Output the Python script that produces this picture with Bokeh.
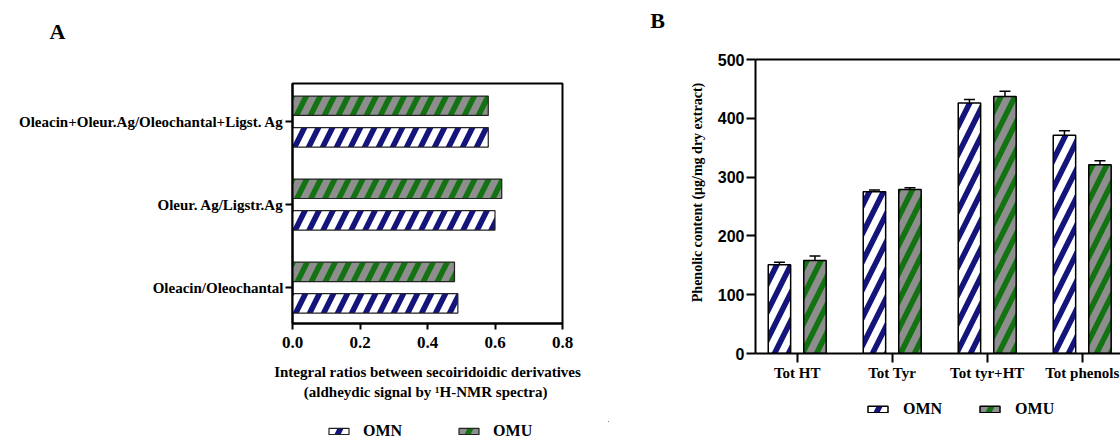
from bokeh.plotting import figure
from bokeh.models import (FixedTicker, NumeralTickFormatter, Legend, LegendItem, Whisker,
                          TeeHead, ColumnDataSource, LinearAxis, Range1d, Label)
from bokeh.layouts import row, column
from bokeh.embed import file_html
from bokeh.resources import INLINE

# ---------------- data ----------------
series = ["OMN", "OMU"]

a_categories = ["Oleacin/Oleochantal", "Oleur. Ag/Ligstr.Ag",
                "Oleacin+Oleur.Ag/Oleochantal+Ligst. Ag"]
a_omn = [0.49, 0.60, 0.58]
a_omu = [0.48, 0.62, 0.58]
a_ticks = [0.0, 0.2, 0.4, 0.6, 0.8]

b_categories = ["Tot HT", "Tot Tyr", "Tot tyr+HT", "Tot phenols"]
b_omn = [151, 275, 426, 371]
b_omn_err = [4, 3, 6, 8]
b_omu = [158, 279, 437, 321]
b_omu_err = [8, 3, 9, 7]
b_ticks = [0, 100, 200, 300, 400, 500]

# ---------------- styles ----------------
NAVY = "#14147c"
GREEN = "#137313"
STRIPE_N = "white"
STRIPE_U = "#8e8e8e"
SERIF = "Liberation Serif"
SANS = "Liberation Sans"
HS, HW = 28, 7
STYLE = {
    "OMN": dict(fill_color=NAVY, hatch_pattern="/", hatch_color=STRIPE_N,
                hatch_scale=HS, hatch_weight=HW),
    "OMU": dict(fill_color=GREEN, hatch_pattern="/", hatch_color=STRIPE_U,
                hatch_scale=HS, hatch_weight=HW),
}


def band(width, height, x_range=None, y_range=None):
    """An axis-less strip used for panel letters and legends."""
    kw = {}
    if x_range is not None:
        kw["x_range"] = x_range
    if y_range is not None:
        kw["y_range"] = y_range
    f = figure(width=width, height=height, frame_width=width, frame_height=height,
               x_axis_location=None, y_axis_location=None,
               output_backend="svg", toolbar_location=None,
               min_border_left=0, min_border_right=0, min_border_top=0, min_border_bottom=0,
               **kw)
    f.frame_align = False
    f.xgrid.visible = False
    f.ygrid.visible = False
    f.outline_line_color = None
    return f


def letter(f, text, x, y):
    f.add_layout(Label(x=x, y=y, x_units="screen", y_units="screen", text=text,
                       text_font=SERIF, text_font_style="bold", text_font_size="22px",
                       text_color="black", text_align="center", text_baseline="middle"))


def add_legend(f, renderers, loc, spacing, standoff):
    items = [LegendItem(label=s, renderers=[r]) for s, r in zip(series, renderers)]
    f.add_layout(Legend(items=items, orientation="horizontal", location=loc,
                        glyph_width=25, glyph_height=8, label_height=16,
                        label_standoff=standoff, spacing=spacing, padding=0, margin=0,
                        border_line_color=None, background_fill_alpha=0,
                        label_text_font=SERIF, label_text_font_style="bold",
                        label_text_font_size="16px", label_text_color="black"), "center")


# ---------------- panel A ----------------
pA = figure(width=608, height=358, frame_width=270, frame_height=240,
            x_range=Range1d(0, 0.8), y_range=Range1d(-0.432, 2.458),
            output_backend="svg", toolbar_location=None,
            min_border_left=292, min_border_right=46, min_border_top=21, min_border_bottom=97)
pA.frame_align = False
pA.xgrid.visible = False
pA.ygrid.visible = False
pA.outline_line_color = "black"
pA.outline_line_width = 2
pA.outline_line_alpha = 1

a_idx = list(range(len(a_categories)))
off_a, h_a = 0.19, 0.234
srcA = {
    "OMN": ColumnDataSource(dict(y=[i - off_a for i in a_idx], v=a_omn)),
    "OMU": ColumnDataSource(dict(y=[i + off_a for i in a_idx], v=a_omu)),
}
for s in series:
    pA.hbar(y="y", right="v", left=0, height=h_a, source=srcA[s],
            line_color="#222222", line_width=1.2, **STYLE[s])

xa = pA.xaxis[0]
xa.ticker = FixedTicker(ticks=a_ticks)
xa.formatter = NumeralTickFormatter(format="0.0")
xa.minor_tick_line_color = None
xa.major_tick_in = 0
xa.major_tick_out = 6
xa.major_tick_line_width = 2
xa.axis_line_width = 2
xa.major_label_standoff = 7
xa.major_label_text_font = SERIF
xa.major_label_text_font_style = "bold"
xa.major_label_text_font_size = "17px"
xa.major_label_text_color = "black"
xa.axis_label = "Integral ratios between secoiridoidic derivatives\n(aldheydic signal  by \u00b9H-NMR spectra)"
xa.axis_label_text_font = SERIF
xa.axis_label_text_font_style = "bold"
xa.axis_label_text_font_size = "15px"
xa.axis_label_text_line_height = 1.3
xa.axis_label_text_color = "black"
xa.axis_label_standoff = 13

ya = pA.yaxis[0]
ya.ticker = FixedTicker(ticks=a_idx)
ya.major_label_overrides = {i: c for i, c in enumerate(a_categories)}
ya.minor_tick_line_color = None
ya.major_tick_in = 0
ya.major_tick_out = 7
ya.major_tick_line_width = 2
ya.axis_line_width = 2
ya.major_label_standoff = 2
ya.major_label_text_font = SERIF
ya.major_label_text_font_style = "bold"
ya.major_label_text_font_size = "15px"
ya.major_label_text_color = "black"

tA = band(608, 62)
letter(tA, "A", 57, 31)

# legend strip for A: swatches come from the real series renderers, mapped far out of view
lA = band(608, 21, x_range=Range1d(1e6, 2e6), y_range=Range1d(1e6, 2e6))
rA_leg = [lA.hbar(y="y", right="v", left=0, height=h_a, source=srcA[s],
                  line_color="#222222", line_width=1.2, **STYLE[s]) for s in series]
add_legend(lA, rA_leg, (326, 1), 54, 12)

# ---------------- panel B ----------------
pB = figure(width=512, height=358, frame_width=365, frame_height=294,
            x_range=Range1d(-0.439, 3.403), y_range=Range1d(0, 500),
            output_backend="svg", toolbar_location=None,
            min_border_left=147, min_border_right=0, min_border_top=19, min_border_bottom=45)
pB.frame_align = False
pB.xgrid.visible = False
pB.ygrid.visible = False
pB.outline_line_color = None

b_idx = list(range(len(b_categories)))
off_b, w_b = 0.187, 0.236
srcB = {
    "OMN": ColumnDataSource(dict(x=[i - off_b for i in b_idx], v=b_omn,
                                 up=[v + e for v, e in zip(b_omn, b_omn_err)])),
    "OMU": ColumnDataSource(dict(x=[i + off_b for i in b_idx], v=b_omu,
                                 up=[v + e for v, e in zip(b_omu, b_omu_err)])),
}
for s in series:
    pB.vbar(x="x", top="v", bottom=0, width=w_b, source=srcB[s],
            line_color="black", line_width=1.5, **STYLE[s])
    pB.add_layout(Whisker(base="x", lower="v", upper="up", source=srcB[s], line_width=1.5,
                          line_color="black", lower_head=None,
                          upper_head=TeeHead(size=11, line_width=1.5, line_color="black")))

xb = pB.xaxis[0]
xb.ticker = FixedTicker(ticks=b_idx)
xb.major_label_overrides = {i: c for i, c in enumerate(b_categories)}
xb.minor_tick_line_color = None
xb.major_tick_in = 0
xb.major_tick_out = 9
xb.major_tick_line_width = 2
xb.axis_line_width = 2
xb.major_label_standoff = 2
xb.major_label_text_font = SERIF
xb.major_label_text_font_style = "bold"
xb.major_label_text_font_size = "15px"
xb.major_label_text_color = "black"

yb = pB.yaxis[0]
yb.ticker = FixedTicker(ticks=b_ticks)
yb.minor_tick_line_color = None
yb.major_tick_in = 0
yb.major_tick_out = 9
yb.major_tick_line_width = 2
yb.axis_line_width = 2
yb.major_label_standoff = 2
yb.major_label_text_font = SANS
yb.major_label_text_font_style = "bold"
yb.major_label_text_font_size = "16px"
yb.major_label_text_color = "black"
yb.axis_label = "\u00a0" * 8 + "Phenolic content (\u03bcg/mg dry extract)"
yb.axis_label_text_font = SERIF
yb.axis_label_text_font_style = "bold"
yb.axis_label_text_font_size = "14px"
yb.axis_label_text_color = "black"
yb.axis_label_standoff = 10

top_line = LinearAxis(ticker=FixedTicker(ticks=[]), axis_line_width=2,
                      major_tick_line_color=None, minor_tick_line_color=None,
                      major_label_text_font_size="0px", major_label_standoff=0)
pB.add_layout(top_line, "above")

tB = band(512, 40)
letter(tB, "B", 49, 20)

lB = band(512, 24, x_range=Range1d(1e6, 2e6), y_range=Range1d(1e6, 2e6))
rB_leg = [lB.vbar(x="x", top="v", bottom=0, width=w_b, source=srcB[s],
                  line_color="black", line_width=1.5, **STYLE[s]) for s in series]
add_legend(lB, rB_leg, (257, 4), 35, 13)

layout = row(column(tA, pA, lA), column(tB, pB, lB))
open("out.html", "w").write(file_html(layout, INLINE))
